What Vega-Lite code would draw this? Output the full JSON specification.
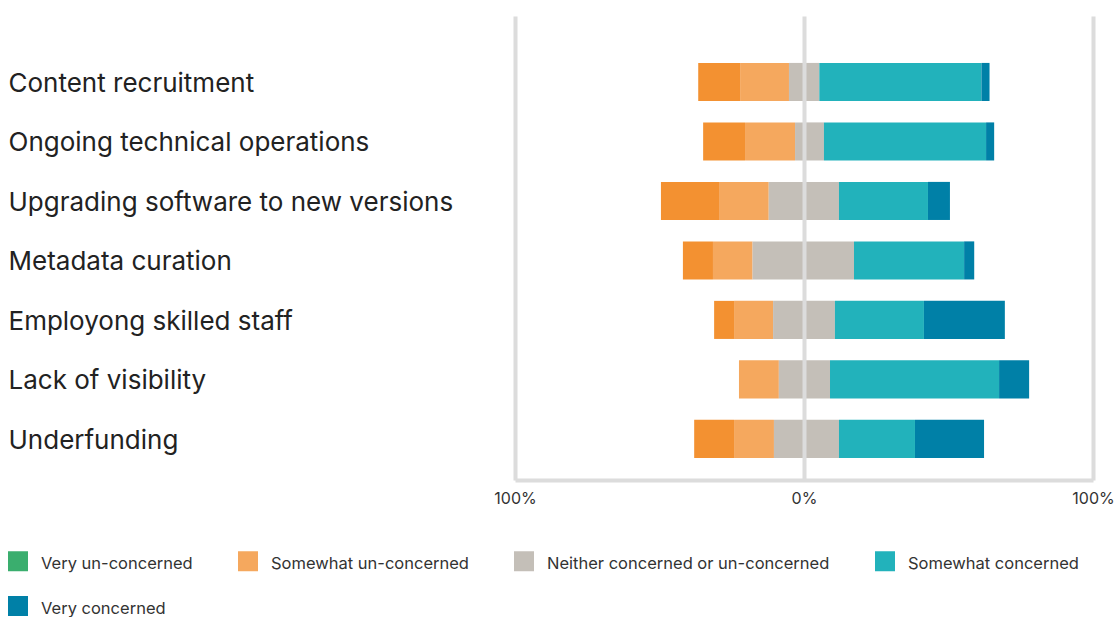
{
  "$schema": "https://vega.github.io/schema/vega-lite/v6.json",
  "width": 578,
  "height": 464,
  "autosize": {"type": "none"},
  "padding": {"left": 515, "top": 16, "right": 24, "bottom": 137},
  "background": "white",
  "config": {"view": {"stroke": null}, "font": "Inter"},
  "data": {
    "values": [
      {"task": "Content recruitment", "response": "Very un-concerned", "value": -14.5},
      {"task": "Content recruitment", "response": "Somewhat un-concerned", "value": -16.9},
      {"task": "Content recruitment", "response": "Neither concerned or un-concerned", "value": -5.2},
      {"task": "Content recruitment", "response": "Neither concerned or un-concerned", "value": 5.3},
      {"task": "Content recruitment", "response": "Somewhat concerned", "value": 56.1},
      {"task": "Content recruitment", "response": "Very concerned", "value": 2.8},

      {"task": "Ongoing technical operations", "response": "Very un-concerned", "value": -14.5},
      {"task": "Ongoing technical operations", "response": "Somewhat un-concerned", "value": -17.3},
      {"task": "Ongoing technical operations", "response": "Neither concerned or un-concerned", "value": -3.1},
      {"task": "Ongoing technical operations", "response": "Neither concerned or un-concerned", "value": 6.9},
      {"task": "Ongoing technical operations", "response": "Somewhat concerned", "value": 56.1},
      {"task": "Ongoing technical operations", "response": "Very concerned", "value": 2.8},

      {"task": "Upgrading software to new versions", "response": "Very un-concerned", "value": -20.1},
      {"task": "Upgrading software to new versions", "response": "Somewhat un-concerned", "value": -17.2},
      {"task": "Upgrading software to new versions", "response": "Neither concerned or un-concerned", "value": -12.2},
      {"task": "Upgrading software to new versions", "response": "Neither concerned or un-concerned", "value": 12.1},
      {"task": "Upgrading software to new versions", "response": "Somewhat concerned", "value": 30.8},
      {"task": "Upgrading software to new versions", "response": "Very concerned", "value": 7.6},

      {"task": "Metadata curation", "response": "Very un-concerned", "value": -10.4},
      {"task": "Metadata curation", "response": "Somewhat un-concerned", "value": -13.7},
      {"task": "Metadata curation", "response": "Neither concerned or un-concerned", "value": -17.8},
      {"task": "Metadata curation", "response": "Neither concerned or un-concerned", "value": 17.3},
      {"task": "Metadata curation", "response": "Somewhat concerned", "value": 38.1},
      {"task": "Metadata curation", "response": "Very concerned", "value": 3.5},

      {"task": "Employong skilled staff", "response": "Very un-concerned", "value": -6.9},
      {"task": "Employong skilled staff", "response": "Somewhat un-concerned", "value": -13.5},
      {"task": "Employong skilled staff", "response": "Neither concerned or un-concerned", "value": -10.7},
      {"task": "Employong skilled staff", "response": "Neither concerned or un-concerned", "value": 10.7},
      {"task": "Employong skilled staff", "response": "Somewhat concerned", "value": 30.8},
      {"task": "Employong skilled staff", "response": "Very concerned", "value": 28.0},

      {"task": "Lack of visibility", "response": "Very un-concerned", "value": 0},
      {"task": "Lack of visibility", "response": "Somewhat un-concerned", "value": -13.8},
      {"task": "Lack of visibility", "response": "Neither concerned or un-concerned", "value": -8.7},
      {"task": "Lack of visibility", "response": "Neither concerned or un-concerned", "value": 9.0},
      {"task": "Lack of visibility", "response": "Somewhat concerned", "value": 58.5},
      {"task": "Lack of visibility", "response": "Very concerned", "value": 10.4},

      {"task": "Underfunding", "response": "Very un-concerned", "value": -13.8},
      {"task": "Underfunding", "response": "Somewhat un-concerned", "value": -13.8},
      {"task": "Underfunding", "response": "Neither concerned or un-concerned", "value": -10.4},
      {"task": "Underfunding", "response": "Neither concerned or un-concerned", "value": 12.1},
      {"task": "Underfunding", "response": "Somewhat concerned", "value": 26.3},
      {"task": "Underfunding", "response": "Very concerned", "value": 23.9}
    ]
  },
  "transform": [
    {"calculate": "indexof(['Neither concerned or un-concerned','Somewhat un-concerned','Somewhat concerned','Very un-concerned','Very concerned'], datum.response)", "as": "rank"},
    {"stack": "value", "groupby": ["task"], "sort": [{"field": "rank", "order": "ascending"}], "as": ["x0", "x1"], "offset": "zero"}
  ],
  "encoding": {
    "y": {
      "field": "task",
      "type": "nominal",
      "sort": null,
      "scale": {"paddingInner": 0.36, "paddingOuter": 0.58, "align": 0.68},
      "axis": {
        "title": null,
        "domain": false,
        "ticks": false,
        "tickSize": 0,
        "grid": false,
        "labelAlign": "left",
        "labelBaseline": "middle",
        "labelPadding": 507,
        "labelOffset": 2,
        "labelLimit": 600,
        "labelFontSize": 26,
        "labelFont": "Inter",
        "labelColor": "#222222"
      }
    },
    "x": {
      "field": "x0",
      "type": "quantitative",
      "scale": {"domain": [-100, 100], "nice": false, "zero": false},
      "axis": {
        "title": null,
        "values": [-100, 0, 100],
        "grid": true,
        "gridColor": "#dcdcdc",
        "gridWidth": 4,
        "domain": true,
        "domainColor": "#dcdcdc",
        "domainWidth": 4,
        "ticks": false,
        "labelExpr": "abs(datum.value) + '%'",
        "labelFontSize": 16,
        "labelFont": "Inter",
        "labelColor": "#333333",
        "labelPadding": 10,
        "labelFlush": false,
        "zindex": 1
      }
    },
    "x2": {"field": "x1"}
  },
  "layer": [
    {
      "transform": [{"filter": "datum.response !== 'Very un-concerned'"}],
      "mark": {"type": "bar"},
      "encoding": {
        "color": {
          "field": "response",
          "type": "nominal",
          "scale": {
            "domain": ["Very un-concerned", "Somewhat un-concerned", "Neither concerned or un-concerned", "Somewhat concerned", "Very concerned"],
            "range": ["#3aae6e", "#f5a85e", "#c4bfb8", "#22b2bb", "#0080a7"]
          },
          "legend": {
            "title": null,
            "orient": "none",
            "legendX": -507,
            "legendY": 535,
            "direction": "horizontal",
            "columns": 4,
            "columnPadding": 45,
            "rowPadding": 23,
            "padding": 0,
            "symbolType": "square",
            "symbolSize": 400,
            "symbolStrokeWidth": 0,
            "symbolOpacity": 1,
            "labelFontSize": 16.5,
            "labelFont": "Inter",
            "labelColor": "#333333",
            "labelOffset": 13,
            "labelLimit": 400,
            "encode": {"labels": {"update": {"dy": {"value": 3}}}}
          }
        }
      }
    },
    {
      "transform": [{"filter": "datum.response === 'Very un-concerned'"}],
      "mark": {"type": "bar", "color": "#f39131"},
      "encoding": {}
    }
  ]
}
